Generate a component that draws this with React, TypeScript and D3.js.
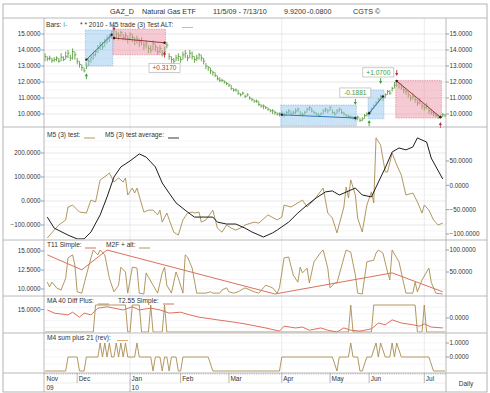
import React from "react";
import * as d3 from "d3";

// daily bars, one per trading day from 11/5/09 to 7/13/10
const barLow = [
  13.3, 13.3, 13.35, 13.2, 13.25, 13.3, 13.2, 13.3, 13.3, 13.4,
  13.5, 13.3, 13.4, 13.4, 13.1, 12.9, 12.7, 12.6, 12.8, 13.0,
  13.2, 13.4, 13.6, 13.8, 14.0, 14.0, 14.2, 14.4, 14.5, 14.7,
  14.6, 14.7, 14.6, 14.8, 14.6, 14.6, 14.4, 14.6, 14.5, 14.3,
  14.4, 14.2, 14.3, 14.0, 14.1, 13.8, 13.8, 14.0, 13.9, 13.7,
  13.8, 13.6, 13.7, 14.1, 13.4, 13.2, 13.1, 13.3, 13.3, 13.2,
  13.4, 13.5, 13.3, 13.5, 13.4, 13.2, 13.3, 13.4, 13.3, 13.1,
  12.8, 12.7, 12.5, 12.4, 12.3, 12.1, 12.0, 12.0, 11.9, 11.8,
  11.7, 11.5, 11.4, 11.4, 11.2, 11.1, 11.2, 11.0, 11.1, 10.9,
  10.8, 10.7, 10.7, 10.5, 10.4, 10.3, 10.3, 10.2, 10.1, 10.0,
  9.95, 9.9, 9.85, 9.9, 9.8, 9.9, 10.0, 9.9, 9.95, 10.0,
  10.1, 9.9, 9.85, 9.95, 10.1, 10.2, 10.1, 10.0, 9.9, 9.8,
  9.9, 10.0, 10.1, 10.05, 10.2, 10.0, 9.9, 10.0, 10.1, 10.0,
  9.9, 9.8, 9.75, 9.7, 9.65, 9.6, 9.6, 9.5, 9.55, 9.7,
  9.85, 9.9, 10.1, 10.3, 10.5, 10.7, 10.9, 10.8, 11.0, 11.2,
  11.2, 11.4, 11.6, 11.7, 11.6, 11.5, 11.3, 11.2, 11.0, 10.8,
  10.9, 10.7, 10.5, 10.6, 10.3, 10.2, 10.3, 10.0, 9.95, 9.85,
  9.8, 9.7, 9.75, 9.8, 9.8,
];
const barHigh = [
  13.8, 13.6, 13.65, 13.5, 13.55, 13.6, 13.5, 13.8, 13.6, 13.9,
  14.0, 13.7, 14.1, 13.9, 13.5, 13.3, 13.1, 12.9, 13.2, 13.5,
  13.7, 13.9, 14.0, 14.3, 14.5, 14.5, 14.7, 14.9, 15.0, 15.2,
  15.3, 15.2, 15.1, 15.2, 15.0, 15.1, 14.9, 15.1, 15.0, 14.8,
  14.9, 14.7, 14.8, 14.5, 14.6, 14.3, 14.3, 14.6, 14.4, 14.2,
  14.3, 14.0, 14.2, 14.5, 13.8, 13.6, 13.5, 13.7, 13.8, 13.6,
  13.9, 14.0, 13.7, 14.0, 13.9, 13.6, 13.7, 13.8, 13.7, 13.5,
  13.2, 13.0, 12.9, 12.7, 12.6, 12.4, 12.3, 12.2, 12.1, 12.0,
  11.9, 11.8, 11.6, 11.6, 11.5, 11.3, 11.4, 11.2, 11.3, 11.1,
  11.0, 10.9, 10.9, 10.8, 10.6, 10.6, 10.5, 10.4, 10.3, 10.3,
  10.2, 10.1, 10.1, 10.2, 10.1, 10.2, 10.3, 10.2, 10.2, 10.35,
  10.4, 10.2, 10.1, 10.2, 10.4, 10.5, 10.4, 10.2, 10.1, 10.05,
  10.1, 10.3, 10.4, 10.3, 10.5, 10.3, 10.15, 10.3, 10.4, 10.3,
  10.15, 10.0, 9.95, 9.9, 9.85, 9.85, 9.9, 9.75, 9.8, 10.0,
  10.1, 10.2, 10.4, 10.6, 10.8, 11.0, 11.2, 11.1, 11.3, 11.5,
  11.5, 11.7, 12.0, 12.1, 12.0, 11.9, 11.7, 11.6, 11.4, 11.2,
  11.3, 11.1, 10.9, 11.0, 10.7, 10.6, 10.7, 10.4, 10.3, 10.15,
  10.05, 9.95, 9.95, 10.05, 10.0,
];
const barClose = [
  13.6, 13.45, 13.5, 13.35, 13.4, 13.5, 13.3, 13.55, 13.4, 13.6,
  13.8, 13.5, 13.9, 13.7, 13.3, 13.1, 12.9, 12.7, 13.0, 13.3,
  13.5, 13.7, 13.9, 14.1, 14.3, 14.2, 14.5, 14.7, 14.8, 15.0,
  14.8, 15.0, 14.9, 15.1, 14.8, 14.9, 14.7, 15.0, 14.8, 14.6,
  14.7, 14.5, 14.6, 14.3, 14.4, 14.1, 14.0, 14.4, 14.2, 13.9,
  14.1, 13.8, 13.9, 14.3, 13.6, 13.4, 13.3, 13.5, 13.6, 13.4,
  13.7, 13.8, 13.5, 13.8, 13.6, 13.4, 13.5, 13.7, 13.5, 13.3,
  13.0, 12.9, 12.7, 12.6, 12.4, 12.2, 12.1, 12.1, 12.0, 11.9,
  11.8, 11.6, 11.5, 11.5, 11.3, 11.2, 11.3, 11.1, 11.2, 11.0,
  10.9, 10.8, 10.8, 10.6, 10.5, 10.5, 10.4, 10.3, 10.2, 10.2,
  10.1, 10.0, 10.0, 10.0, 9.9, 10.1, 10.2, 10.0, 10.1, 10.2,
  10.3, 10.0, 9.95, 10.1, 10.3, 10.4, 10.2, 10.1, 10.0, 9.9,
  10.0, 10.2, 10.3, 10.2, 10.4, 10.1, 10.0, 10.2, 10.3, 10.1,
  10.0, 9.9, 9.85, 9.8, 9.75, 9.7, 9.8, 9.6, 9.7, 9.9,
  10.0, 10.1, 10.3, 10.5, 10.7, 10.9, 11.1, 11.0, 11.2, 11.4,
  11.3, 11.6, 11.8, 12.0, 11.9, 11.7, 11.5, 11.4, 11.2, 11.0,
  11.1, 10.9, 10.7, 10.8, 10.5, 10.4, 10.5, 10.2, 10.1, 10.0,
  9.9, 9.8, 9.85, 9.95, 9.92,
];

const monthNames = ["Nov", "Dec", "Jan", "Feb", "Mar", "Apr", "May", "Jun", "Jul"];
const monthStart = [0, 14, 37, 59, 80, 103, 124, 141, 165];
const yearNames = ["09", "10"];
const yearStart = [0, 37];
const quarterBars = [37, 103, 165];

// trades (bar index, prices)
const tradeStart = [18, 30, 103, 141, 153];
const tradeEnd = [29, 52, 135, 147, 172];
const tradeBoxLow = [13.0, 13.7, 9.25, 9.7, 9.75];
const tradeBoxHigh = [15.25, 15.3, 10.56, 11.5, 12.1];
const tradeEntry = [13.4, 14.75, 9.95, 10.05, 12.06];
const tradeExit = [14.95, 14.45, 9.75, 11.1, 9.8];
const tradeLong = [true, false, true, true, false];

const resultText = ["+0.3170", "-0.1881", "+1.0700"];
const resultBar = [52, 135, 145];
const resultPrice = [12.87, 11.34, 12.6];
const resultGain = [false, true, true];

// signal arrows: bar, tip price, points up?, long side?
const arrowBar = [18, 30, 52, 135, 141, 146, 153, 172];
const arrowPrice = [12.55, 15.2, 13.9, 10.56, 9.62, 11.87, 12.37, 9.5];
const arrowUp = [true, false, true, false, true, false, false, true];
const arrowLong = [true, false, false, true, true, true, false, false];

// indicator lines: [bar, value]
const m5Test: [number, number][] = [
  [1, -154], [4, -121], [6, -100], [9, -79], [10, -25], [12, -17], [15, -46], [18, -50], [20, 4], [22, -4],
  [24, 88], [27, 108], [28, 117], [30, 79], [32, 96], [34, 79], [35, 96], [36, 25], [38, 54], [39, 33],
  [40, 54], [43, -46], [45, -38], [47, -38], [49, -58], [50, -38], [51, -88], [53, -50], [56, -130], [58, -142],
  [60, -79], [62, -50], [64, -46], [65, -50], [67, -46], [68, -88], [70, -79], [73, -38], [75, -113], [77, -130],
  [79, -100], [81, -113], [83, -121], [86, -108], [87, -100], [91, -88], [93, -92], [97, -58], [101, -79], [103, -67],
  [104, -17], [107, -25], [110, -8], [112, 4], [114, -25], [117, 4], [121, 54], [123, -50], [125, -71], [127, -133],
  [130, -25], [131, 58], [132, 13], [133, 88], [135, 25], [136, -71], [138, -129], [140, -17], [142, 38], [143, -8],
  [144, 263], [146, 233], [148, 121], [149, 121], [151, 200], [153, 150], [155, 108], [157, 25], [160, 33], [162, -4],
  [164, -50], [165, -17], [167, -38], [169, -79], [171, -100], [173, -92],
];
const m5Average: [number, number][] = [
  [1, -67], [4, -113], [10, -142], [14, -158], [17, -158], [20, -129], [24, -58], [27, 17], [30, 100], [33, 142],
  [37, 167], [41, 196], [44, 183], [48, 142], [51, 75], [54, 33], [57, -8], [62, -46], [65, -67], [70, -67],
  [73, -67], [75, -88], [79, -96], [83, -96], [87, -113], [90, -129], [95, -150], [99, -133], [101, -121], [106, -88],
  [110, -50], [114, -17], [118, 13], [122, 38], [125, 42], [128, 25], [130, 33], [135, 54], [138, 25], [142, 17],
  [144, 58], [148, 138], [151, 204], [154, 221], [157, 213], [160, 225], [162, 263], [164, 254], [166, 246], [168, 179],
  [173, 92],
];
const t11Simple: [number, number][] = [
  [1, 89], [16, 55], [27, 100], [100, 0], [151, 48], [173, 5],
];
const m2fAlt: [number, number][] = [
  [1, 27], [2, 16], [3, 27], [5, 14], [7, 9], [9, 36], [10, 82], [12, 89], [13, 66], [14, 5],
  [16, 2], [18, 43], [20, 82], [21, 100], [23, 89], [24, 100], [26, 89], [28, 36], [30, 5], [32, 20],
  [33, 61], [35, 50], [36, 2], [38, 61], [40, 59], [41, 2], [43, 0], [44, 48], [47, 20], [49, 2],
  [51, 48], [52, 61], [53, 20], [55, 2], [57, 50], [58, 36], [60, 2], [61, 89], [62, 84], [64, 59],
  [66, 2], [70, 2], [72, 5], [73, 2], [76, 2], [77, 9], [79, 14], [80, 5], [82, 2], [84, 5],
  [87, 14], [91, 5], [93, 2], [96, 20], [98, 16], [99, 14], [101, 2], [102, 14], [104, 82], [106, 84],
  [108, 43], [110, 27], [111, 61], [112, 48], [114, 59], [115, 25], [117, 73], [120, 95], [121, 100], [123, 59],
  [124, 14], [126, 25], [127, 25], [130, 82], [131, 100], [133, 95], [135, 43], [136, 2], [138, 0], [140, 73],
  [143, 77], [144, 93], [145, 100], [147, 93], [149, 50], [150, 32], [151, 100], [153, 82], [154, 73], [156, 25],
  [157, 2], [160, 2], [161, 27], [162, 5], [164, 32], [167, 59], [168, 27], [170, 2], [173, 0],
];
const ma40DiffPlus: [number, number][] = [
  [0, 10], [21, 10], [22, 16], [35, 16], [36, 10], [37, 10], [38, 16], [41, 16], [42, 10], [45, 10],
  [46, 16], [47, 10], [51, 10], [52, 16], [53, 10], [132, 10], [133, 16], [134, 10], [142, 10], [143, 16],
  [161, 16], [162, 10], [164, 10], [165, 16], [166, 10], [174, 10],
];
const t255Simple: [number, number][] = [
  [1, 14.9], [4, 14.2], [10, 13.8], [12, 14.4], [15, 13.3], [17, 14.2], [20, 13.8], [23, 15.3], [27, 15.6], [30, 15.3],
  [34, 14.9], [38, 15.6], [41, 14.9], [46, 15.3], [50, 14.9], [54, 14.2], [59, 14.4], [63, 13.8], [67, 13.3], [75, 12.7],
  [82, 12.2], [87, 11.8], [96, 10.9], [102, 10.2], [104, 11.3], [109, 10.9], [112, 11.1], [115, 10.4], [120, 10.9], [123, 10.4],
  [127, 10.0], [130, 10.9], [133, 10.4], [137, 10.2], [142, 10.7], [145, 12.0], [148, 11.6], [151, 12.7], [155, 12.0], [160, 11.6],
  [163, 11.3], [165, 11.8], [168, 11.1], [173, 10.9],
];
const m4Sum: [number, number][] = [
  [0, -1], [9, -1], [10, 0], [14, 0], [15, -1], [17, -1], [18, 0], [23, 0], [24, 1], [25, 0],
  [26, 1], [27, 0], [28, 1], [29, 0], [30, 0], [31, 1], [32, 0], [33, 1], [34, 0], [35, 1],
  [36, 0], [39, 0], [40, 1], [41, 0], [46, 0], [47, -1], [48, 0], [50, 0], [51, -1], [52, 0],
  [53, 0], [54, -1], [55, 0], [57, 0], [58, -1], [59, -1], [60, 0], [71, 0], [73, -1], [102, -1],
  [103, 0], [125, 0], [127, -1], [128, 0], [132, 0], [133, 1], [134, 0], [136, 0], [137, -1], [138, -1],
  [140, 0], [142, 0], [144, 1], [145, 0], [146, 1], [148, 0], [150, 0], [151, 1], [152, 0], [153, 1],
  [155, 0], [167, 0], [169, -1], [174, -1],
];

const priceTicks = [15, 14, 13, 12, 11, 10];
const p2LeftTicks = [200, 100, 0, -100];
const p2RightTicks = [50, 0, -50, -100];
const p3LeftTicks = [15, 12.5, 10];
const p3RightTicks = [100, 50];
const p4LeftTicks = [15];
const p4RightTicks = [0];
const p5RightTicks = [1, 0];

const GREEN = "#5b9f3d";
const BROWN = "#a98c4f";
const RED = "#d9604b";
const INK = "#333";
const FONT = "'Liberation Sans', Arial, Helvetica, sans-serif";

const L = 44, R = 446;
const panelTop = [18, 127, 240, 296, 333];
const panelBottom = [127, 240, 296, 333, 373];

export default function App() {
  const x = d3.scaleLinear().domain([0, barClose.length - 1]).range([45, 445]);
  const yP = d3.scaleLinear().domain([10, 15]).range([114, 34]);
  const y2 = d3.scaleLinear().domain([-100, 200]).range([225, 153]);
  const y2r = d3.scaleLinear().domain([-100, 50]).range([234, 161]);
  const y3 = d3.scaleLinear().domain([0, 100]).range([294, 250]);
  const y3l = d3.scaleLinear().domain([10, 15]).range([289, 251]);
  const y4 = d3.scaleLinear().domain([10, 16]).range([332, 305]);
  const y4r = d3.scaleLinear().domain([-1, 1]).range([332, 304]);
  const y5 = d3.scaleLinear().domain([-1, 1]).range([371, 343]);
  const fmt = d3.format(".4f");

  const lineOf = (ys: d3.ScaleLinear<number, number>) =>
    d3.line<[number, number]>().x((d) => x(d[0])).y((d) => ys(d[1]));

  const leftLabels = (ticks: number[], ys: d3.ScaleLinear<number, number>, key: string) =>
    ticks.map((t) => (
      <g key={key + t}>
        <line x1={L - 3} x2={L} y1={ys(t)} y2={ys(t)} stroke="#777" strokeWidth={0.7} />
        <text x={L - 3.5} y={ys(t)} dy="0.35em" textAnchor="end" fontSize={6.3} fill={INK}>
          {fmt(t)}
        </text>
      </g>
    ));
  const rightLabels = (ticks: number[], ys: d3.ScaleLinear<number, number>, key: string) =>
    ticks.map((t) => (
      <g key={key + t}>
        <line x1={R} x2={R + 3} y1={ys(t)} y2={ys(t)} stroke="#777" strokeWidth={0.7} />
        <text x={R + 3.5} y={ys(t)} dy="0.35em" fontSize={6.3} fill={INK}>
          {fmt(t)}
        </text>
      </g>
    ));
  const hGrid = (vals: number[], ys: d3.ScaleLinear<number, number>, key: string, color: string) =>
    vals.map((v) => (
      <line key={key + v} x1={L} x2={R} y1={ys(v)} y2={ys(v)} stroke={color} strokeWidth={0.6} />
    ));
  const legendSample = (x0: number, yb: number, color: string) => (
    <line x1={x0} x2={x0 + 11} y1={yb + 1} y2={yb + 1} stroke={color} strokeWidth={0.9} />
  );

  return (
    <svg width={490} height={393} style={{ position: "absolute", left: 0, top: 0 }} fontFamily={FONT}>
      <rect width={490} height={393} fill="#fff" />
      <defs>
        {panelTop.map((t, k) => (
          <clipPath id={"clip" + k} key={k}>
            <rect x={L} y={t + 0.5} width={R - L} height={panelBottom[k] - t - 1} />
          </clipPath>
        ))}
      </defs>

      {/* grids */}
      {hGrid(d3.range(10, 15.5, 0.5), yP, "g1", "#eeeeee")}
      {hGrid(priceTicks, yP, "g1m", "#e2e2e2")}
      {hGrid(d3.range(-150, 275, 25), y2, "g2", "#f0f0f0")}
      {hGrid(p2LeftTicks, y2, "g2m", "#e4e4e4")}
      {hGrid(d3.range(10, 15.5, 1.25), y3l, "g3", "#eeeeee")}
      {hGrid(d3.range(11, 16.5, 1.5), y4, "g4", "#f0f0f0")}
      {hGrid(d3.range(-0.5, 1.75, 0.5), y5, "g5", "#f0f0f0")}
      {quarterBars.map((b) => (
        <line key={"q" + b} x1={x(b)} x2={x(b)} y1={18} y2={373} stroke="#e2e2e2" strokeWidth={0.7} />
      ))}

      {/* price bars */}
      <g clipPath="url(#clip0)" stroke={GREEN} strokeWidth={0.9}>
        {barClose.map((c, i) => (
          <g key={"b" + i}>
            <line x1={x(i)} x2={x(i)} y1={yP(barHigh[i])} y2={yP(barLow[i])} />
            <line x1={x(i)} x2={x(i) + 1.6} y1={yP(c)} y2={yP(c)} />
          </g>
        ))}
      </g>

      {/* trade boxes */}
      {tradeStart.map((s, k) => (
        <g key={"t" + k}>
          <rect
            x={x(s) - 1}
            y={yP(tradeBoxHigh[k])}
            width={x(tradeEnd[k]) - x(s) + 2}
            height={yP(tradeBoxLow[k]) - yP(tradeBoxHigh[k])}
            fill={tradeLong[k] ? "rgba(150,200,240,0.5)" : "rgba(236,150,168,0.5)"}
            stroke={tradeLong[k] ? "#7fb2de" : "#e07b90"}
            strokeWidth={0.7}
            strokeDasharray="1.2,1.2"
          />
          <line
            x1={x(s)}
            x2={x(tradeEnd[k])}
            y1={yP(tradeEntry[k])}
            y2={yP(tradeExit[k])}
            stroke={tradeLong[k] ? "#2f78bd" : "#a3303c"}
            strokeWidth={1}
          />
          <circle cx={x(s)} cy={yP(tradeEntry[k])} r={1.2} fill="#222" />
          <circle cx={x(tradeEnd[k])} cy={yP(tradeExit[k])} r={1.2} fill="#222" />
        </g>
      ))}

      {/* signal arrows */}
      {arrowBar.map((b, k) => {
        const tx = x(b);
        const ty = yP(arrowPrice[k]);
        const d = arrowUp[k] ? 1 : -1;
        const col = arrowLong[k] ? "#3f9a3a" : "#b8323e";
        return (
          <g key={"a" + k}>
            <line x1={tx} x2={tx} y1={ty + d * 2} y2={ty + d * 6} stroke={col} strokeWidth={0.9} />
            <path d={`M${tx},${ty}L${tx - 1.6},${ty + d * 3}L${tx + 1.6},${ty + d * 3}Z`} fill={col} />
          </g>
        );
      })}

      {/* trade results */}
      {resultText.map((t, k) => (
        <g key={"r" + k}>
          <rect
            x={x(resultBar[k]) - 15.5}
            y={yP(resultPrice[k]) - 4.6}
            width={31}
            height={9.2}
            fill="#fff"
            stroke="#aaa"
            strokeWidth={0.6}
          />
          <text
            x={x(resultBar[k])}
            y={yP(resultPrice[k])}
            dy="0.35em"
            textAnchor="middle"
            fontSize={6.6}
            fill={resultGain[k] ? "#3f9a3a" : "#c0392b"}
          >
            {t}
          </text>
        </g>
      ))}

      {/* indicator lines */}
      <g clipPath="url(#clip1)" fill="none" strokeWidth={0.9}>
        <path d={lineOf(y2)(m5Test) ?? ""} stroke={BROWN} />
        <path d={lineOf(y2)(m5Average) ?? ""} stroke="#1e1e1e" strokeWidth={1} />
      </g>
      <g clipPath="url(#clip2)" fill="none" strokeWidth={0.9}>
        <path d={lineOf(y3)(t11Simple) ?? ""} stroke={RED} />
        <path d={lineOf(y3)(m2fAlt) ?? ""} stroke={BROWN} />
      </g>
      <g clipPath="url(#clip3)" fill="none" strokeWidth={0.9}>
        <path d={lineOf(y4)(t255Simple) ?? ""} stroke={RED} />
        <path d={lineOf(y4)(ma40DiffPlus) ?? ""} stroke={BROWN} />
      </g>
      <g clipPath="url(#clip4)" fill="none" strokeWidth={0.9}>
        <path d={lineOf(y5)(m4Sum) ?? ""} stroke={BROWN} />
      </g>

      {/* frame */}
      <rect x={3} y={4} width={484} height={388} fill="none" stroke="#a0a0a0" strokeWidth={0.8} />
      {[...panelTop, 373].map((t) => (
        <line key={"h" + t} x1={3} x2={487} y1={t} y2={t} stroke="#a8a8a8" strokeWidth={0.8} />
      ))}
      <line x1={L} x2={L} y1={18} y2={392} stroke="#a8a8a8" strokeWidth={0.8} />
      <line x1={R} x2={R} y1={18} y2={392} stroke="#a8a8a8" strokeWidth={0.8} />
      <line x1={L} x2={R} y1={383} y2={383} stroke="#e0e0e0" strokeWidth={0.6} />

      {/* axes labels */}
      {leftLabels(priceTicks, yP, "l1")}
      {rightLabels(priceTicks, yP, "r1")}
      {leftLabels(p2LeftTicks, y2, "l2")}
      {rightLabels(p2RightTicks, y2r, "r2")}
      {leftLabels(p3LeftTicks, y3l, "l3")}
      {rightLabels(p3RightTicks, y3, "r3")}
      {leftLabels(p4LeftTicks, y4, "l4")}
      {rightLabels(p4RightTicks, y4r, "r4")}
      {rightLabels(p5RightTicks, y5, "r5")}

      {/* date axis */}
      {barClose.map((_, i) => (
        <line key={"dt" + i} x1={x(i)} x2={x(i)} y1={373} y2={374.6} stroke="#999" strokeWidth={0.5} />
      ))}
      {monthNames.map((m, k) => (
        <g key={"m" + m}>
          {k > 0 && (
            <line
              x1={x(monthStart[k])}
              x2={x(monthStart[k])}
              y1={373}
              y2={yearStart.includes(monthStart[k]) ? 392 : 383}
              stroke="#999"
              strokeWidth={0.7}
            />
          )}
          <text x={x(monthStart[k]) + 1.5} y={381} fontSize={6.5} fill={INK}>
            {m}
          </text>
        </g>
      ))}
      {yearNames.map((yv, k) => (
        <text key={"y" + yv} x={x(yearStart[k]) + 1.5} y={390} fontSize={6.5} fill={INK}>
          {yv}
        </text>
      ))}
      <text x={466} y={385.5} textAnchor="middle" fontSize={6.5} fill={INK}>
        Daily
      </text>

      {/* title */}
      <g fontSize={7.2} fill={INK}>
        <text x={110} y={13.5}>GAZ_D</text>
        <text x={142} y={13.5}>Natural Gas ETF</text>
        <text x={213} y={13.5}>11/5/09 - 7/13/10</text>
        <text x={284} y={13.5}>9.9200</text>
        <text x={307} y={13.5}>-0.0800</text>
        <text x={353} y={13.5}>CGTS ©</text>
      </g>

      {/* legends */}
      <g fontSize={6.6} fill={INK}>
        <text x={46} y={26.5}>
          Bars: <tspan fill={GREEN}>I-</tspan>
        </text>
        <text x={80} y={26.5}>* * 2010 - M5 trade (3) Test ALT:</text>
        {legendSample(182, 26.5, "#8dbfe6")}
        <text x={47} y={137}>M5 (3) test:</text>
        {legendSample(84, 137, BROWN)}
        <text x={105} y={137}>M5 (3) test average:</text>
        {legendSample(168, 137, "#222")}
        <text x={47} y={247}>T11 Simple:</text>
        {legendSample(85, 247, RED)}
        <text x={106} y={247}>M2F + alt:</text>
        {legendSample(139, 247, BROWN)}
        <text x={47} y={303}>MA 40 Diff Plus:</text>
        {legendSample(98, 303, BROWN)}
        <text x={118} y={303}>T2.55 Simple:</text>
        {legendSample(163, 303, RED)}
        <text x={47} y={339.5}>M4 sum plus 21 (rev):</text>
        {legendSample(117, 339.5, "#d9a36b")}
      </g>
    </svg>
  );
}
